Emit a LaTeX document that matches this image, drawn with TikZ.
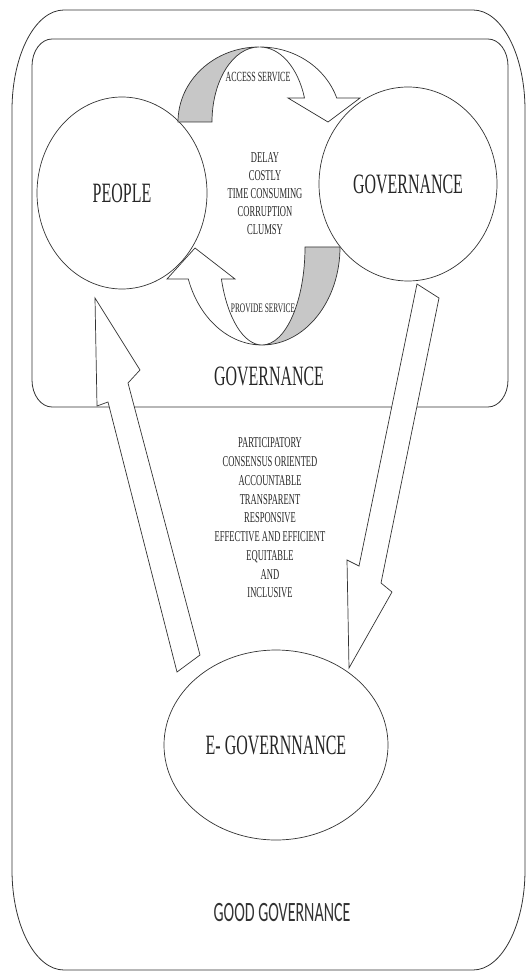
\documentclass[tikz,border=0pt]{standalone}
\usepackage{fontspec}
\setmainfont{Liberation Serif}
\newfontfamily\condserif[FakeStretch=0.57]{Liberation Serif}
\newfontfamily\condsans[FakeStretch=0.57]{Carlito}
\usetikzlibrary{shapes.geometric}
\begin{document}
\begin{tikzpicture}[x=1pt,y=-1pt,
  frame/.style={draw=black!80, line width=0.8pt},
  bubble/.style={ellipse, draw=black!80, line width=0.7pt, fill=white, inner sep=0pt, text=black!85,
                 font=\condserif\fontsize{28}{30}\selectfont},
  blockarrow/.style={draw=black!80, line width=0.7pt, fill=white, line join=miter},
  backpart/.style={draw=black!80, line width=0.7pt, fill=black!22},
  bigtxt/.style={text=black!85, inner sep=0pt, font=\condserif\fontsize{28}{30}\selectfont},
  midtxt/.style={text=black!85, inner sep=0pt, align=center, font=\condserif\fontsize{15}{18}\selectfont},
  listtxt/.style={text=black!85, inner sep=0pt, align=center, font=\condserif\fontsize{15}{18.75}\selectfont},
  tinytxt/.style={text=black!85, inner sep=0pt, font=\condserif\fontsize{14}{16}\selectfont},
  sanstxt/.style={text=black!80, inner sep=0pt, font=\condsans\fontsize{28}{30}\selectfont}
]
\useasboundingbox (0,0) rectangle (529,973);

% outer frame (good governance)
\draw[frame] (64,10) -- (473,10) arc[start angle=270, end angle=360, x radius=52, y radius=100]
  -- (525,870) arc[start angle=0, end angle=90, x radius=52, y radius=100]
  -- (64,970) arc[start angle=90, end angle=180, x radius=52, y radius=100]
  -- (12,110) arc[start angle=180, end angle=270, x radius=52, y radius=100] -- cycle;

% inner frame (governance)
\draw[frame] (52,39) -- (488,39) arc[start angle=270, end angle=360, x radius=20, y radius=27]
  -- (508,380) arc[start angle=0, end angle=90, x radius=20, y radius=27]
  -- (52,407) arc[start angle=90, end angle=180, x radius=20, y radius=27]
  -- (32,66) arc[start angle=180, end angle=270, x radius=20, y radius=27] -- cycle;

% bubbles
\node[bubble, minimum width=170pt, minimum height=192pt] (people) at (122,193) {PEOPLE};
\node[bubble, minimum width=178pt, minimum height=194pt] (gov) at (408,184) {GOVERNANCE};
\node[bubble, minimum width=224pt, minimum height=190pt] (egov) at (276,745) {E- GOVERNNANCE};

% top curved arrow (access service)
\draw[backpart] (178,122) arc[start angle=180, end angle=270, x radius=81, y radius=75]
  arc[start angle=270, end angle=180, x radius=47, y radius=75] -- cycle;
\draw[blockarrow] (260,47) arc[start angle=270, end angle=341.3, x radius=81, y radius=75]
  -- (360,98) -- (328,122) -- (288,98) -- (304.5,98)
  arc[start angle=341.3, end angle=270, x radius=47, y radius=75] -- cycle;

% bottom curved arrow (provide service)
\draw[backpart] (340,247) arc[start angle=0, end angle=90, x radius=78, y radius=98]
  arc[start angle=90, end angle=0, x radius=43, y radius=98] -- cycle;
\draw[blockarrow] (262,345) arc[start angle=90, end angle=160.94, x radius=78, y radius=98]
  -- (167,279) -- (195,248) -- (235,279) -- (221.4,279)
  arc[start angle=160.94, end angle=90, x radius=43, y radius=98] -- cycle;

% straight block arrows
\coordinate (upTip) at (95,298);
\coordinate (downTip) at (349,668);
\draw[blockarrow] (177,672) -- (200,655) -- (128,383) -- (140,370) -- (upTip)
  -- (97,406) -- (108,402) -- cycle;
\draw[blockarrow] (417,284) -- (439,298) -- (381,583) -- (392,592) -- (downTip)
  -- (347,560) -- (359,566) -- cycle;

% texts
\node[tinytxt] (access) at (258,77) {ACCESS SERVICE};
\node[midtxt] (problems) at (265,194) {DELAY\\COSTLY\\TIME CONSUMING\\CORRUPTION\\CLUMSY};
\node[tinytxt, font=\condserif\fontsize{13}{15}\selectfont] (provide) at (263,308) {PROVIDE SERVICE};
\node[bigtxt] (govlabel) at (269,376) {GOVERNANCE};
\node[listtxt] (principles) at (270,518) {PARTICIPATORY\\CONSENSUS ORIENTED\\ACCOUNTABLE\\TRANSPARENT\\RESPONSIVE\\EFFECTIVE AND EFFICIENT\\EQUITABLE\\AND\\INCLUSIVE};
\node[sanstxt] (good) at (282,912) {GOOD GOVERNANCE};
\end{tikzpicture}
\end{document}
